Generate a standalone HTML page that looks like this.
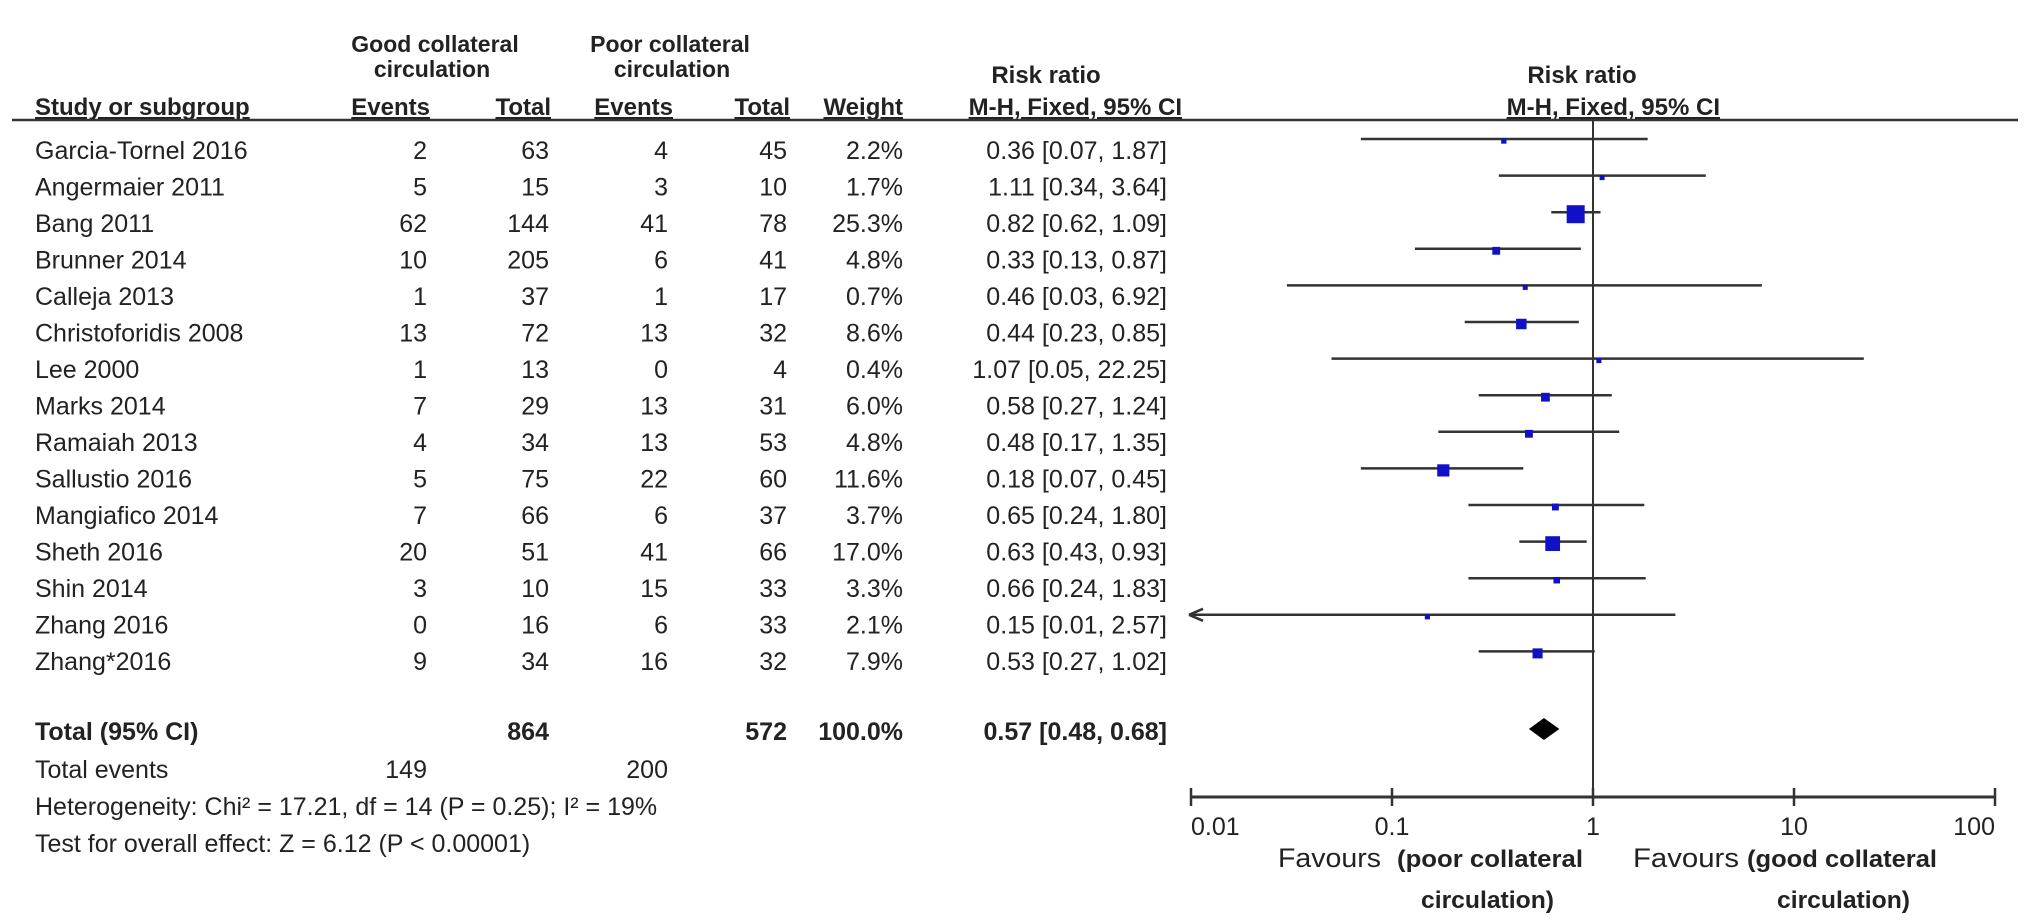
<!DOCTYPE html>
<html><head><meta charset="utf-8"><style>
html,body{margin:0;padding:0;background:#fff;}
svg{display:block;font-family:"Liberation Sans",Arial,sans-serif;}
</style></head><body>
<svg id="chart" width="2031" height="921" viewBox="0 0 2031 921" xmlns="http://www.w3.org/2000/svg">
<g fill="#222" font-weight="bold" font-size="23">
<text x="435" y="52" text-anchor="middle">Good  collateral</text>
<text x="432" y="77" text-anchor="middle">circulation</text>
<text x="670" y="52" text-anchor="middle">Poor  collateral</text>
<text x="672" y="77" text-anchor="middle">circulation</text>
<text x="1046" y="83" text-anchor="middle" font-size="24">Risk ratio</text>
<text x="1582" y="83" text-anchor="middle" font-size="24">Risk ratio</text>
<g text-decoration="underline" font-size="24">
<text x="35" y="115">Study or subgroup</text>
<text x="430" y="115" text-anchor="end">Events</text>
<text x="551" y="115" text-anchor="end">Total</text>
<text x="673" y="115" text-anchor="end">Events</text>
<text x="790" y="115" text-anchor="end">Total</text>
<text x="903" y="115" text-anchor="end">Weight</text>
<text x="1182" y="115" text-anchor="end">M-H, Fixed, 95% CI</text>
<text x="1720" y="115" text-anchor="end">M-H, Fixed, 95% CI</text>
</g>
</g>
<line x1="12" y1="120" x2="2018" y2="120" stroke="#333" stroke-width="2.5"/>
<g id="table" fill="#222" font-size="25"></g>
<g id="plot"></g>
<g fill="#222" font-size="25">
<text x="35" y="778">Total events</text>
<text x="427" y="778" text-anchor="end">149</text>
<text x="668" y="778" text-anchor="end">200</text>
<text x="35" y="815">Heterogeneity: Chi² = 17.21, df = 14 (P = 0.25); I² = 19%</text>
<text x="35" y="852">Test for overall effect: Z = 6.12 (P &lt; 0.00001)</text>
</g>
<g fill="#222">
<text x="1278" y="867" font-size="27" textLength="103" lengthAdjust="spacingAndGlyphs">Favours</text>
<text x="1397" y="867" font-size="24" font-weight="bold" textLength="186" lengthAdjust="spacingAndGlyphs">(poor collateral</text>
<text x="1421" y="908" font-size="24" font-weight="bold" textLength="133" lengthAdjust="spacingAndGlyphs">circulation)</text>
<text x="1633" y="867" font-size="27" textLength="106" lengthAdjust="spacingAndGlyphs">Favours</text>
<text x="1747" y="867" font-size="24" font-weight="bold" textLength="190" lengthAdjust="spacingAndGlyphs">(good collateral</text>
<text x="1777" y="908" font-size="24" font-weight="bold" textLength="133" lengthAdjust="spacingAndGlyphs">circulation)</text>
</g>
</svg>
<script>
const studies=["Garcia-Tornel 2016","Angermaier 2011","Bang 2011","Brunner 2014","Calleja 2013","Christoforidis 2008","Lee 2000","Marks 2014","Ramaiah 2013","Sallustio 2016","Mangiafico 2014","Sheth 2016","Shin 2014","Zhang 2016","Zhang*2016"];
const goodEvents=[2,5,62,10,1,13,1,7,4,5,7,20,3,0,9];
const goodTotal=[63,15,144,205,37,72,13,29,34,75,66,51,10,16,34];
const poorEvents=[4,3,41,6,1,13,0,13,13,22,6,41,15,6,16];
const poorTotal=[45,10,78,41,17,32,4,31,53,60,37,66,33,33,32];
const weights=[2.2,1.7,25.3,4.8,0.7,8.6,0.4,6.0,4.8,11.6,3.7,17.0,3.3,2.1,7.9];
const rr=[0.36,1.11,0.82,0.33,0.46,0.44,1.07,0.58,0.48,0.18,0.65,0.63,0.66,0.15,0.53];
const lower=[0.07,0.34,0.62,0.13,0.03,0.23,0.05,0.27,0.17,0.07,0.24,0.43,0.24,0.01,0.27];
const upper=[1.87,3.64,1.09,0.87,6.92,0.85,22.25,1.24,1.35,0.45,1.80,0.93,1.83,2.57,1.02];
const totalRR=[0.57,0.48,0.68];
const totalN=[864,572];
const tickValues=[0.01,0.1,1,10,100];
const tickLabels=["0.01","0.1","1","10","100"];

const NS="http://www.w3.org/2000/svg";
const X1=1593, DEC=201;
function xs(v){return X1+Math.log10(v)*DEC;}
function rowBase(i){return 159+36.5*i;}
function rowLine(i){return 139+36.6*i;}
function mk(tag,attrs,parent,txt){const e=document.createElementNS(NS,tag);for(const k in attrs)e.setAttribute(k,attrs[k]);if(txt!==undefined)e.textContent=txt;parent.appendChild(e);return e;}
const tbl=document.getElementById('table'), plot=document.getElementById('plot');
function fmt(v){return v.toFixed(2);}
studies.forEach((s,i)=>{
  const y=rowBase(i);
  const g=mk('g',{},tbl);
  
  
  const cols=[[s,35,'start'],[goodEvents[i],427,'end'],[goodTotal[i],549,'end'],[poorEvents[i],668,'end'],[poorTotal[i],787,'end'],[weights[i].toFixed(1)+'%',903,'end'],[fmt(rr[i])+' ['+fmt(lower[i])+', '+fmt(upper[i])+']',1167,'end']];
  const names=['study-name','good-events','good-total','poor-events','poor-total','weight','risk-ratio-ci'];
  cols.forEach((c,j)=>{const t=mk('text',{x:c[1],y:y,'text-anchor':c[2]},g,String(c[0]));
    
    });
  const ly=rowLine(i);
  const lo=Math.max(lower[i],0.01);
  const ln=mk('line',{x1:xs(lo),x2:xs(Math.min(upper[i],100)),y1:ly,y2:ly,stroke:'#333','stroke-width':2.5},plot);
  
  
  if(lower[i]<=0.01){
    const ax=xs(0.01)-2;
    const ar=mk('path',{d:`M${ax},${ly} l14,-6 M${ax},${ly} l14,6`,stroke:'#333','stroke-width':2.5,fill:'none'},plot);
    
    
  }
  const sz=Math.max(5,18*Math.sqrt(weights[i]/25.3));
  const sq=mk('rect',{x:xs(rr[i])-sz/2,y:ly+2-sz/2,width:sz,height:sz,fill:'#1010c8'},plot);
  
  
});
const tg=mk('g',{'font-weight':'bold'},tbl);


[["Total (95% CI)",35,'start'],[totalN[0],549,'end'],[totalN[1],787,'end'],["100.0%",903,'end'],[fmt(totalRR[0])+' ['+fmt(totalRR[1])+', '+fmt(totalRR[2])+']',1167,'end']].forEach(c=>{
  const t=mk('text',{x:c[1],y:740,'text-anchor':c[2]},tg,String(c[0]));
  
  
});
const dy=729,dh=11;
const dm=mk('polygon',{points:`${xs(totalRR[1])},${dy} ${xs(totalRR[0])},${dy-dh} ${xs(totalRR[2])},${dy} ${xs(totalRR[0])},${dy+dh}`,fill:'#000'},plot);


const nl=mk('line',{x1:xs(1),x2:xs(1),y1:120,y2:797,stroke:'#333','stroke-width':2},plot);


const axY=797;
const ax=mk('line',{x1:xs(0.01),x2:xs(100),y1:axY,y2:axY,stroke:'#333','stroke-width':3},plot);


tickValues.forEach((v,i)=>{
  const x=xs(v);
  const tk=mk('line',{x1:x,x2:x,y1:axY-9,y2:axY+9,stroke:'#333','stroke-width':2.5},plot);
  
  
  const anchor=i===0?'start':(i===tickValues.length-1?'end':'middle');
  const lb=mk('text',{x:x,y:835,'text-anchor':anchor,'font-size':25,fill:'#222'},plot,tickLabels[i]);
  
  
});
</script>
</body></html>
